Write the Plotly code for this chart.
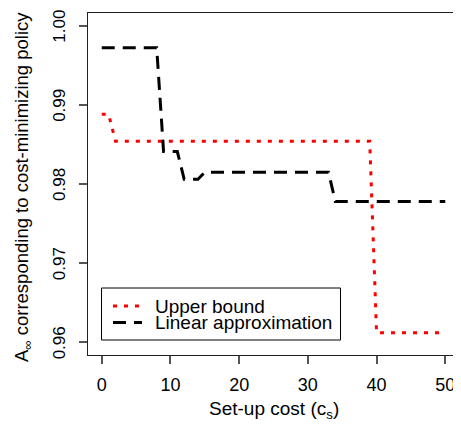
import plotly.graph_objects as go

# Data
upper_x = [0, 1, 2, 39, 40, 50]
upper_y = [0.9888, 0.9888, 0.9854, 0.9854, 0.9612, 0.9612]

linear_x = [0, 8, 9, 11, 12, 14, 15, 33, 34, 50]
linear_y = [0.9972, 0.9972, 0.9841, 0.9841, 0.9806, 0.9806, 0.9815, 0.9815, 0.9778, 0.9778]

x_ticks = [0, 10, 20, 30, 40, 50]
y_ticks = [0.96, 0.97, 0.98, 0.99, 1.00]
y_tick_text = ["0.96", "0.97", "0.98", "0.99", "1.00"]

series_names = ["Upper bound", "Linear approximation"]
series_colors = ["#ff0000", "#000000"]
series_dash = ["4px,7px", "13px,8px"]

FONT = "Liberation Sans, Arial, Helvetica, sans-serif"
FS = 19
TFS = 17

# page body has an 8px default margin; figure is sized to fill the window
OFF = 8
W, H = 461 - OFF, 426 - OFF
L, R, T = 88 - OFF, 2, 13 - OFF
PW, PH = W - L - R, 342
B = H - T - PH


def px_x(p):
    return (p - OFF - L) / PW


def px_y(p):
    return (T + PH - (p - OFF)) / PH


fig = go.Figure()
fig.add_trace(go.Scatter(x=upper_x, y=upper_y, mode="lines", name=series_names[0],
                         showlegend=False,
                         line=dict(color=series_colors[0], width=3, dash=series_dash[0])))
fig.add_trace(go.Scatter(x=linear_x, y=linear_y, mode="lines", name=series_names[1],
                         showlegend=False,
                         line=dict(color=series_colors[1], width=3, dash=series_dash[1])))

shapes = []
annotations = []

# legend box (drawn manually for R-like tight spacing)
shapes.append(dict(type="rect", xref="paper", yref="paper",
                   x0=px_x(101.5), x1=px_x(340.5), y0=px_y(340), y1=px_y(288),
                   line=dict(color="#000", width=1), fillcolor="white", layer="above"))
row_y = [306, 322.5]
for i in range(2):
    shapes.append(dict(type="line", xref="paper", yref="paper",
                       x0=px_x(113), x1=px_x(142), y0=px_y(row_y[i]), y1=px_y(row_y[i]),
                       line=dict(color=series_colors[i], width=3, dash=series_dash[i]),
                       layer="above"))
    annotations.append(dict(text=series_names[i], xref="paper", yref="paper",
                            x=px_x(153), y=px_y(row_y[i]), xanchor="left", yanchor="middle",
                            showarrow=False, font=dict(size=FS, color="#000")))

# axis titles
annotations.append(dict(text="Set-up cost (c<sub>s</sub>)", xref="paper", yref="paper",
                        x=0.5, y=px_y(410), xanchor="center", yanchor="middle",
                        showarrow=False, font=dict(size=FS, color="#000")))
annotations.append(dict(text="A<sub>∞</sub> corresponding to cost-minimizing policy",
                        xref="paper", yref="paper", x=px_x(23), y=px_y(187), textangle=-90,
                        xanchor="center", yanchor="middle",
                        showarrow=False, font=dict(size=18.5, color="#000")))

fig.update_layout(
    width=W, height=H,
    margin=dict(l=L, r=R, t=T, b=B),
    paper_bgcolor="white", plot_bgcolor="white",
    font=dict(family=FONT, size=FS, color="#000"),
    showlegend=False,
    shapes=shapes,
    annotations=annotations,
    xaxis=dict(range=[-2, 52], tickvals=x_ticks, ticks="outside", ticklen=8,
               tickcolor="#555", tickwidth=1.5, showgrid=False, zeroline=False,
               showline=True, linecolor="#222", linewidth=1.3, mirror=True,
               automargin=False, ticklabelstandoff=5, ticklabeloverflow="allow",
               tickfont=dict(size=18)),
    yaxis=dict(range=[0.9584, 1.0016], tickvals=y_ticks, ticktext=y_tick_text,
               ticks="outside", ticklen=8, tickcolor="#555", tickwidth=1.5,
               tickangle=-90, showgrid=False, zeroline=False,
               showline=True, linecolor="#222", linewidth=1.3, mirror=True,
               automargin=False, ticklabelstandoff=7, ticklabeloverflow="allow",
               ticklabelshift=3,
               tickfont=dict(size=TFS)),
)

fig.write_html("out.html")
